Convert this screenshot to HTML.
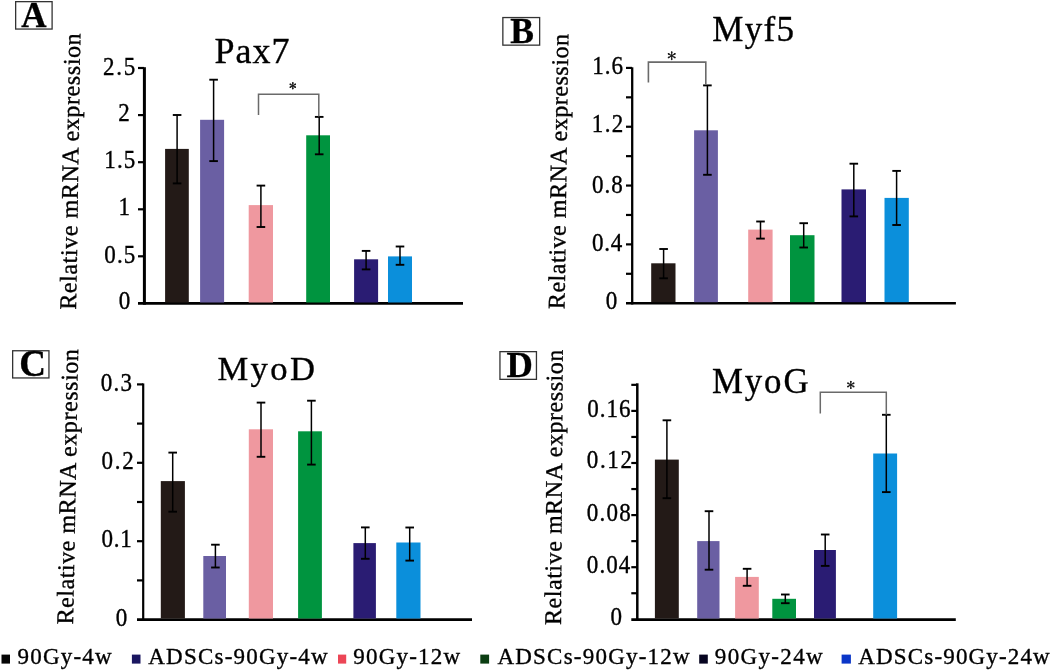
<!DOCTYPE html>
<html><head><meta charset="utf-8"><style>
html,body{margin:0;padding:0;background:#fff;}
body{width:1052px;height:671px;overflow:hidden;}
svg{display:block;will-change:transform;}
.s{font-family:"Liberation Serif",serif;stroke:#000;stroke-width:0.35px;}
</style></head><body>
<svg width="1052" height="671" viewBox="0 0 1052 671">
<rect width="1052" height="671" fill="#fff"/>
<rect x="15.65" y="1.65" width="36.45" height="27.40" fill="none" stroke="#333" stroke-width="1.3"/>
<text x="21.32" y="26.60" class="s" font-size="35" font-weight="bold" style="letter-spacing:0.000px" fill="#000" >A</text>
<text x="214.40" y="63.20" class="s" font-size="36" style="letter-spacing:1.000px" fill="#000" >Pax7</text>
<text x="0" y="0" transform="translate(76.09,309.75) rotate(-89.122)" class="s" font-size="24" style="letter-spacing:0.594px" fill="#000">Relative mRNA expression</text>
<line x1="144.40" y1="67.20" x2="144.40" y2="304.70" stroke="#000" stroke-width="3"/>
<line x1="138.00" y1="303.40" x2="463.00" y2="303.40" stroke="#000" stroke-width="2.7"/>
<line x1="138.00" y1="68.00" x2="144.00" y2="68.00" stroke="#000" stroke-width="2.2"/>
<line x1="138.00" y1="115.10" x2="144.00" y2="115.10" stroke="#000" stroke-width="2.2"/>
<line x1="138.00" y1="162.20" x2="144.00" y2="162.20" stroke="#000" stroke-width="2.2"/>
<line x1="138.00" y1="209.30" x2="144.00" y2="209.30" stroke="#000" stroke-width="2.2"/>
<line x1="138.00" y1="256.30" x2="144.00" y2="256.30" stroke="#000" stroke-width="2.2"/>
<text x="0" y="0" transform="translate(103.04,74.50) scale(0.96,1.05)" class="s" font-size="24" style="letter-spacing:1.833px" fill="#000" >2.5</text>
<text x="0" y="0" transform="translate(118.34,121.00) scale(0.96,1.05)" class="s" font-size="24" style="letter-spacing:0.000px" fill="#000" >2</text>
<text x="0" y="0" transform="translate(104.26,168.30) scale(0.96,1.05)" class="s" font-size="24" style="letter-spacing:1.198px" fill="#000" >1.5</text>
<text x="0" y="0" transform="translate(118.56,214.80) scale(0.96,1.05)" class="s" font-size="24" style="letter-spacing:0.000px" fill="#000" >1</text>
<text x="0" y="0" transform="translate(104.26,262.70) scale(0.96,1.05)" class="s" font-size="24" style="letter-spacing:1.198px" fill="#000" >0.5</text>
<text x="0" y="0" transform="translate(118.66,309.00) scale(0.96,1.05)" class="s" font-size="24" style="letter-spacing:0.000px" fill="#000" >0</text>
<rect x="165.10" y="148.90" width="23.70" height="153.60" fill="#231a17"/>
<rect x="200.10" y="119.80" width="24.00" height="182.70" fill="#6a5fa3"/>
<rect x="248.70" y="205.10" width="24.30" height="97.40" fill="#ef989f"/>
<rect x="306.20" y="135.30" width="23.80" height="167.20" fill="#00943f"/>
<rect x="354.10" y="259.30" width="24.00" height="43.20" fill="#2a1c73"/>
<rect x="388.00" y="256.40" width="24.00" height="46.10" fill="#0b8fdb"/>
<line x1="177.10" y1="115.00" x2="177.10" y2="183.40" stroke="#000" stroke-width="1.5"/>
<line x1="172.80" y1="115.00" x2="181.40" y2="115.00" stroke="#000" stroke-width="1.9"/>
<line x1="172.80" y1="183.40" x2="181.40" y2="183.40" stroke="#000" stroke-width="1.9"/>
<line x1="213.60" y1="79.70" x2="213.60" y2="161.10" stroke="#000" stroke-width="1.5"/>
<line x1="209.30" y1="79.70" x2="217.90" y2="79.70" stroke="#000" stroke-width="1.9"/>
<line x1="209.30" y1="161.10" x2="217.90" y2="161.10" stroke="#000" stroke-width="1.9"/>
<line x1="260.90" y1="185.60" x2="260.90" y2="227.00" stroke="#000" stroke-width="1.5"/>
<line x1="256.60" y1="185.60" x2="265.20" y2="185.60" stroke="#000" stroke-width="1.9"/>
<line x1="256.60" y1="227.00" x2="265.20" y2="227.00" stroke="#000" stroke-width="1.9"/>
<line x1="319.20" y1="116.90" x2="319.20" y2="154.30" stroke="#000" stroke-width="1.5"/>
<line x1="314.90" y1="116.90" x2="323.50" y2="116.90" stroke="#000" stroke-width="1.9"/>
<line x1="314.90" y1="154.30" x2="323.50" y2="154.30" stroke="#000" stroke-width="1.9"/>
<line x1="366.10" y1="250.90" x2="366.10" y2="269.40" stroke="#000" stroke-width="1.5"/>
<line x1="361.80" y1="250.90" x2="370.40" y2="250.90" stroke="#000" stroke-width="1.9"/>
<line x1="361.80" y1="269.40" x2="370.40" y2="269.40" stroke="#000" stroke-width="1.9"/>
<line x1="400.00" y1="246.50" x2="400.00" y2="264.80" stroke="#000" stroke-width="1.5"/>
<line x1="395.70" y1="246.50" x2="404.30" y2="246.50" stroke="#000" stroke-width="1.9"/>
<line x1="395.70" y1="264.80" x2="404.30" y2="264.80" stroke="#000" stroke-width="1.9"/>
<polyline points="258.5,115 258.5,94.2 318.8,94.2 318.8,116.5" fill="none" stroke="#6a6a6a" stroke-width="1.5"/>
<line x1="292.80" y1="82.60" x2="292.80" y2="88.80" stroke="#1a1a1a" stroke-width="1.15" stroke-linecap="round"/><circle cx="292.80" cy="88.37" r="0.85" fill="#1a1a1a"/><circle cx="292.80" cy="83.03" r="0.85" fill="#1a1a1a"/><line x1="290.12" y1="84.15" x2="295.48" y2="87.25" stroke="#1a1a1a" stroke-width="1.15" stroke-linecap="round"/><circle cx="295.11" cy="87.03" r="0.85" fill="#1a1a1a"/><circle cx="290.49" cy="84.37" r="0.85" fill="#1a1a1a"/><line x1="290.12" y1="87.25" x2="295.48" y2="84.15" stroke="#1a1a1a" stroke-width="1.15" stroke-linecap="round"/><circle cx="295.11" cy="84.37" r="0.85" fill="#1a1a1a"/><circle cx="290.49" cy="87.03" r="0.85" fill="#1a1a1a"/>
<rect x="502.85" y="17.55" width="36.80" height="27.60" fill="none" stroke="#333" stroke-width="1.3"/>
<text x="510.18" y="42.50" class="s" font-size="35.5" font-weight="bold" style="letter-spacing:0.000px" fill="#000" >B</text>
<text x="712.30" y="41.40" class="s" font-size="35" style="letter-spacing:1.342px" fill="#000" >Myf5</text>
<text x="0" y="0" transform="translate(564.49,309.15) rotate(-89.203)" class="s" font-size="24" style="letter-spacing:0.546px" fill="#000">Relative mRNA expression</text>
<line x1="632.20" y1="67.30" x2="632.20" y2="304.50" stroke="#000" stroke-width="2.3"/>
<line x1="626.00" y1="303.20" x2="955.90" y2="303.20" stroke="#000" stroke-width="2.6"/>
<line x1="626.00" y1="273.79" x2="632.00" y2="273.79" stroke="#000" stroke-width="2.2"/>
<line x1="626.00" y1="244.38" x2="632.00" y2="244.38" stroke="#000" stroke-width="2.2"/>
<line x1="626.00" y1="214.97" x2="632.00" y2="214.97" stroke="#000" stroke-width="2.2"/>
<line x1="626.00" y1="185.56" x2="632.00" y2="185.56" stroke="#000" stroke-width="2.2"/>
<line x1="626.00" y1="156.15" x2="632.00" y2="156.15" stroke="#000" stroke-width="2.2"/>
<line x1="626.00" y1="126.74" x2="632.00" y2="126.74" stroke="#000" stroke-width="2.2"/>
<line x1="626.00" y1="97.33" x2="632.00" y2="97.33" stroke="#000" stroke-width="2.2"/>
<line x1="626.00" y1="67.92" x2="632.00" y2="67.92" stroke="#000" stroke-width="2.2"/>
<text x="0" y="0" transform="translate(592.26,74.40) scale(0.96,1.05)" class="s" font-size="24" style="letter-spacing:1.021px" fill="#000" >1.6</text>
<text x="0" y="0" transform="translate(591.86,132.40) scale(0.96,1.05)" class="s" font-size="24" style="letter-spacing:1.333px" fill="#000" >1.2</text>
<text x="0" y="0" transform="translate(591.96,193.20) scale(0.96,1.05)" class="s" font-size="24" style="letter-spacing:1.031px" fill="#000" >0.8</text>
<text x="0" y="0" transform="translate(591.96,251.30) scale(0.96,1.05)" class="s" font-size="24" style="letter-spacing:0.781px" fill="#000" >0.4</text>
<text x="0" y="0" transform="translate(605.86,309.20) scale(0.96,1.05)" class="s" font-size="24" style="letter-spacing:0.000px" fill="#000" >0</text>
<rect x="651.20" y="263.30" width="24.30" height="38.90" fill="#231a17"/>
<rect x="694.10" y="130.30" width="23.80" height="171.90" fill="#6a5fa3"/>
<rect x="748.20" y="229.60" width="24.40" height="72.60" fill="#ef989f"/>
<rect x="790.00" y="235.20" width="24.50" height="67.00" fill="#00943f"/>
<rect x="841.50" y="189.40" width="24.50" height="112.80" fill="#2a1c73"/>
<rect x="884.50" y="197.90" width="24.30" height="104.30" fill="#0b8fdb"/>
<line x1="663.60" y1="249.00" x2="663.60" y2="278.30" stroke="#000" stroke-width="1.5"/>
<line x1="659.30" y1="249.00" x2="667.90" y2="249.00" stroke="#000" stroke-width="1.9"/>
<line x1="659.30" y1="278.30" x2="667.90" y2="278.30" stroke="#000" stroke-width="1.9"/>
<line x1="707.40" y1="85.40" x2="707.40" y2="174.80" stroke="#000" stroke-width="1.5"/>
<line x1="703.10" y1="85.40" x2="711.70" y2="85.40" stroke="#000" stroke-width="1.9"/>
<line x1="703.10" y1="174.80" x2="711.70" y2="174.80" stroke="#000" stroke-width="1.9"/>
<line x1="760.50" y1="221.50" x2="760.50" y2="238.60" stroke="#000" stroke-width="1.5"/>
<line x1="756.20" y1="221.50" x2="764.80" y2="221.50" stroke="#000" stroke-width="1.9"/>
<line x1="756.20" y1="238.60" x2="764.80" y2="238.60" stroke="#000" stroke-width="1.9"/>
<line x1="803.70" y1="223.20" x2="803.70" y2="247.50" stroke="#000" stroke-width="1.5"/>
<line x1="799.40" y1="223.20" x2="808.00" y2="223.20" stroke="#000" stroke-width="1.9"/>
<line x1="799.40" y1="247.50" x2="808.00" y2="247.50" stroke="#000" stroke-width="1.9"/>
<line x1="853.80" y1="163.70" x2="853.80" y2="216.40" stroke="#000" stroke-width="1.5"/>
<line x1="849.50" y1="163.70" x2="858.10" y2="163.70" stroke="#000" stroke-width="1.9"/>
<line x1="849.50" y1="216.40" x2="858.10" y2="216.40" stroke="#000" stroke-width="1.9"/>
<line x1="896.60" y1="170.90" x2="896.60" y2="225.00" stroke="#000" stroke-width="1.5"/>
<line x1="892.30" y1="170.90" x2="900.90" y2="170.90" stroke="#000" stroke-width="1.9"/>
<line x1="892.30" y1="225.00" x2="900.90" y2="225.00" stroke="#000" stroke-width="1.9"/>
<polyline points="648.4,82.6 648.4,62.1 705.8,62.1 705.8,84.8" fill="none" stroke="#6a6a6a" stroke-width="1.6"/>
<line x1="671.70" y1="51.70" x2="671.70" y2="59.60" stroke="#1a1a1a" stroke-width="1.15" stroke-linecap="round"/><circle cx="671.70" cy="59.05" r="0.85" fill="#1a1a1a"/><circle cx="671.70" cy="52.25" r="0.85" fill="#1a1a1a"/><line x1="668.28" y1="53.68" x2="675.12" y2="57.63" stroke="#1a1a1a" stroke-width="1.15" stroke-linecap="round"/><circle cx="674.64" cy="57.35" r="0.85" fill="#1a1a1a"/><circle cx="668.76" cy="53.95" r="0.85" fill="#1a1a1a"/><line x1="668.28" y1="57.63" x2="675.12" y2="53.68" stroke="#1a1a1a" stroke-width="1.15" stroke-linecap="round"/><circle cx="674.64" cy="53.95" r="0.85" fill="#1a1a1a"/><circle cx="668.76" cy="57.35" r="0.85" fill="#1a1a1a"/>
<rect x="12.65" y="350.75" width="36.30" height="27.20" fill="none" stroke="#333" stroke-width="1.3"/>
<text x="19.35" y="376.40" class="s" font-size="37" font-weight="bold" style="letter-spacing:0.000px" fill="#000" >C</text>
<text x="217.47" y="380.20" class="s" font-size="34.6" style="letter-spacing:2.400px" fill="#000" >MyoD</text>
<text x="0" y="0" transform="translate(73.09,624.55) rotate(-88.951)" class="s" font-size="24" style="letter-spacing:0.551px" fill="#000">Relative mRNA expression</text>
<line x1="143.20" y1="383.40" x2="143.20" y2="620.50" stroke="#000" stroke-width="2.2"/>
<line x1="137.00" y1="619.60" x2="472.00" y2="619.60" stroke="#000" stroke-width="2.7"/>
<line x1="137.00" y1="580.40" x2="143.00" y2="580.40" stroke="#000" stroke-width="2.2"/>
<line x1="137.00" y1="541.20" x2="143.00" y2="541.20" stroke="#000" stroke-width="2.2"/>
<line x1="137.00" y1="502.00" x2="143.00" y2="502.00" stroke="#000" stroke-width="2.2"/>
<line x1="137.00" y1="462.80" x2="143.00" y2="462.80" stroke="#000" stroke-width="2.2"/>
<line x1="137.00" y1="423.60" x2="143.00" y2="423.60" stroke="#000" stroke-width="2.2"/>
<line x1="137.00" y1="384.40" x2="143.00" y2="384.40" stroke="#000" stroke-width="2.2"/>
<text x="0" y="0" transform="translate(100.76,390.60) scale(0.96,1.05)" class="s" font-size="24" style="letter-spacing:1.302px" fill="#000" >0.3</text>
<text x="0" y="0" transform="translate(101.46,469.00) scale(0.96,1.05)" class="s" font-size="24" style="letter-spacing:1.854px" fill="#000" >0.2</text>
<text x="0" y="0" transform="translate(101.46,547.10) scale(0.96,1.05)" class="s" font-size="24" style="letter-spacing:0.823px" fill="#000" >0.1</text>
<text x="0" y="0" transform="translate(115.76,625.90) scale(0.96,1.05)" class="s" font-size="24" style="letter-spacing:0.000px" fill="#000" >0</text>
<rect x="160.80" y="481.10" width="24.10" height="137.40" fill="#231a17"/>
<rect x="203.30" y="556.00" width="22.70" height="62.50" fill="#6a5fa3"/>
<rect x="248.80" y="429.30" width="24.20" height="189.20" fill="#ef989f"/>
<rect x="298.10" y="431.30" width="23.80" height="187.20" fill="#00943f"/>
<rect x="353.40" y="543.10" width="22.50" height="75.40" fill="#2a1c73"/>
<rect x="396.30" y="542.50" width="24.20" height="76.00" fill="#0b8fdb"/>
<line x1="172.70" y1="452.60" x2="172.70" y2="511.70" stroke="#000" stroke-width="1.5"/>
<line x1="168.40" y1="452.60" x2="177.00" y2="452.60" stroke="#000" stroke-width="1.9"/>
<line x1="168.40" y1="511.70" x2="177.00" y2="511.70" stroke="#000" stroke-width="1.9"/>
<line x1="215.40" y1="544.70" x2="215.40" y2="567.50" stroke="#000" stroke-width="1.5"/>
<line x1="211.10" y1="544.70" x2="219.70" y2="544.70" stroke="#000" stroke-width="1.9"/>
<line x1="211.10" y1="567.50" x2="219.70" y2="567.50" stroke="#000" stroke-width="1.9"/>
<line x1="261.00" y1="402.60" x2="261.00" y2="456.80" stroke="#000" stroke-width="1.5"/>
<line x1="256.70" y1="402.60" x2="265.30" y2="402.60" stroke="#000" stroke-width="1.9"/>
<line x1="256.70" y1="456.80" x2="265.30" y2="456.80" stroke="#000" stroke-width="1.9"/>
<line x1="311.40" y1="400.70" x2="311.40" y2="464.60" stroke="#000" stroke-width="1.5"/>
<line x1="307.10" y1="400.70" x2="315.70" y2="400.70" stroke="#000" stroke-width="1.9"/>
<line x1="307.10" y1="464.60" x2="315.70" y2="464.60" stroke="#000" stroke-width="1.9"/>
<line x1="365.30" y1="527.40" x2="365.30" y2="558.80" stroke="#000" stroke-width="1.5"/>
<line x1="361.00" y1="527.40" x2="369.60" y2="527.40" stroke="#000" stroke-width="1.9"/>
<line x1="361.00" y1="558.80" x2="369.60" y2="558.80" stroke="#000" stroke-width="1.9"/>
<line x1="409.70" y1="527.50" x2="409.70" y2="560.60" stroke="#000" stroke-width="1.5"/>
<line x1="405.40" y1="527.50" x2="414.00" y2="527.50" stroke="#000" stroke-width="1.9"/>
<line x1="405.40" y1="560.60" x2="414.00" y2="560.60" stroke="#000" stroke-width="1.9"/>
<rect x="499.95" y="351.65" width="36.50" height="27.70" fill="none" stroke="#333" stroke-width="1.3"/>
<text x="506.57" y="376.90" class="s" font-size="36.5" font-weight="bold" style="letter-spacing:0.000px" fill="#000" >D</text>
<text x="711.95" y="392.60" class="s" font-size="34.8" style="letter-spacing:1.917px" fill="#000" >MyoG</text>
<text x="0" y="0" transform="translate(560.89,625.05) rotate(-89.602)" class="s" font-size="24" style="letter-spacing:0.554px" fill="#000">Relative mRNA expression</text>
<line x1="637.30" y1="383.30" x2="637.30" y2="620.50" stroke="#000" stroke-width="2.5"/>
<line x1="631.30" y1="619.60" x2="955.80" y2="619.60" stroke="#000" stroke-width="2.7"/>
<line x1="631.30" y1="593.25" x2="637.00" y2="593.25" stroke="#000" stroke-width="2.2"/>
<line x1="631.30" y1="567.20" x2="637.00" y2="567.20" stroke="#000" stroke-width="2.2"/>
<line x1="631.30" y1="541.15" x2="637.00" y2="541.15" stroke="#000" stroke-width="2.2"/>
<line x1="631.30" y1="515.10" x2="637.00" y2="515.10" stroke="#000" stroke-width="2.2"/>
<line x1="631.30" y1="489.05" x2="637.00" y2="489.05" stroke="#000" stroke-width="2.2"/>
<line x1="631.30" y1="463.00" x2="637.00" y2="463.00" stroke="#000" stroke-width="2.2"/>
<line x1="631.30" y1="436.95" x2="637.00" y2="436.95" stroke="#000" stroke-width="2.2"/>
<line x1="631.30" y1="410.90" x2="637.00" y2="410.90" stroke="#000" stroke-width="2.2"/>
<line x1="631.30" y1="384.85" x2="637.00" y2="384.85" stroke="#000" stroke-width="2.2"/>
<text x="0" y="0" transform="translate(587.26,416.60) scale(0.96,1.05)" class="s" font-size="24" style="letter-spacing:1.056px" fill="#000" >0.16</text>
<text x="0" y="0" transform="translate(586.86,468.40) scale(0.96,1.05)" class="s" font-size="24" style="letter-spacing:1.681px" fill="#000" >0.12</text>
<text x="0" y="0" transform="translate(586.86,521.20) scale(0.96,1.05)" class="s" font-size="24" style="letter-spacing:1.236px" fill="#000" >0.08</text>
<text x="0" y="0" transform="translate(586.86,572.90) scale(0.96,1.05)" class="s" font-size="24" style="letter-spacing:1.069px" fill="#000" >0.04</text>
<text x="0" y="0" transform="translate(610.46,625.20) scale(0.96,1.05)" class="s" font-size="24" style="letter-spacing:0.000px" fill="#000" >0</text>
<rect x="654.90" y="459.60" width="23.90" height="158.90" fill="#231a17"/>
<rect x="697.20" y="541.10" width="22.30" height="77.40" fill="#6a5fa3"/>
<rect x="735.10" y="576.90" width="23.70" height="41.60" fill="#ef989f"/>
<rect x="772.30" y="598.80" width="23.70" height="19.70" fill="#00943f"/>
<rect x="814.00" y="550.00" width="21.90" height="68.50" fill="#2a1c73"/>
<rect x="873.20" y="453.50" width="23.90" height="165.00" fill="#0b8fdb"/>
<line x1="666.90" y1="420.30" x2="666.90" y2="498.20" stroke="#000" stroke-width="1.5"/>
<line x1="662.60" y1="420.30" x2="671.20" y2="420.30" stroke="#000" stroke-width="1.9"/>
<line x1="662.60" y1="498.20" x2="671.20" y2="498.20" stroke="#000" stroke-width="1.9"/>
<line x1="709.00" y1="511.20" x2="709.00" y2="569.70" stroke="#000" stroke-width="1.5"/>
<line x1="704.70" y1="511.20" x2="713.30" y2="511.20" stroke="#000" stroke-width="1.9"/>
<line x1="704.70" y1="569.70" x2="713.30" y2="569.70" stroke="#000" stroke-width="1.9"/>
<line x1="747.10" y1="568.80" x2="747.10" y2="585.80" stroke="#000" stroke-width="1.5"/>
<line x1="742.80" y1="568.80" x2="751.40" y2="568.80" stroke="#000" stroke-width="1.9"/>
<line x1="742.80" y1="585.80" x2="751.40" y2="585.80" stroke="#000" stroke-width="1.9"/>
<line x1="785.30" y1="594.50" x2="785.30" y2="603.20" stroke="#000" stroke-width="1.5"/>
<line x1="781.00" y1="594.50" x2="789.60" y2="594.50" stroke="#000" stroke-width="1.9"/>
<line x1="781.00" y1="603.20" x2="789.60" y2="603.20" stroke="#000" stroke-width="1.9"/>
<line x1="825.20" y1="534.50" x2="825.20" y2="565.90" stroke="#000" stroke-width="1.5"/>
<line x1="820.90" y1="534.50" x2="829.50" y2="534.50" stroke="#000" stroke-width="1.9"/>
<line x1="820.90" y1="565.90" x2="829.50" y2="565.90" stroke="#000" stroke-width="1.9"/>
<line x1="886.30" y1="414.80" x2="886.30" y2="492.10" stroke="#000" stroke-width="1.5"/>
<line x1="882.00" y1="414.80" x2="890.60" y2="414.80" stroke="#000" stroke-width="1.9"/>
<line x1="882.00" y1="492.10" x2="890.60" y2="492.10" stroke="#000" stroke-width="1.9"/>
<polyline points="820.3,413.6 820.3,392.2 886.3,392.2 886.3,414.8" fill="none" stroke="#6a6a6a" stroke-width="1.5"/>
<line x1="850.80" y1="381.30" x2="850.80" y2="388.50" stroke="#1a1a1a" stroke-width="1.15" stroke-linecap="round"/><circle cx="850.80" cy="388.00" r="0.85" fill="#1a1a1a"/><circle cx="850.80" cy="381.80" r="0.85" fill="#1a1a1a"/><line x1="847.68" y1="383.10" x2="853.92" y2="386.70" stroke="#1a1a1a" stroke-width="1.15" stroke-linecap="round"/><circle cx="853.48" cy="386.45" r="0.85" fill="#1a1a1a"/><circle cx="848.12" cy="383.35" r="0.85" fill="#1a1a1a"/><line x1="847.68" y1="386.70" x2="853.92" y2="383.10" stroke="#1a1a1a" stroke-width="1.15" stroke-linecap="round"/><circle cx="853.48" cy="383.35" r="0.85" fill="#1a1a1a"/><circle cx="848.12" cy="386.45" r="0.85" fill="#1a1a1a"/>
<rect x="1.50" y="654.60" width="8.50" height="9.00" fill="#050505"/>
<text x="17.55" y="664.30" class="s" font-size="23" style="letter-spacing:1.200px" fill="#000" >90Gy-4w</text>
<rect x="131.90" y="654.60" width="8.60" height="9.00" fill="#1a1660"/>
<text x="148.25" y="664.30" class="s" font-size="23" style="letter-spacing:1.217px" fill="#000" >ADSCs-90Gy-4w</text>
<rect x="338.00" y="654.60" width="8.20" height="9.00" fill="#ec4656"/>
<text x="353.25" y="664.30" class="s" font-size="23" style="letter-spacing:1.214px" fill="#000" >90Gy-12w</text>
<rect x="480.30" y="654.60" width="8.80" height="9.00" fill="#0b3d12"/>
<text x="497.45" y="664.30" class="s" font-size="23" style="letter-spacing:1.223px" fill="#000" >ADSCs-90Gy-12w</text>
<rect x="699.20" y="654.60" width="8.60" height="9.00" fill="#060420"/>
<text x="714.85" y="664.30" class="s" font-size="23" style="letter-spacing:1.343px" fill="#000" >90Gy-24w</text>
<rect x="841.60" y="654.60" width="9.30" height="9.00" fill="#0b36c8"/>
<text x="858.35" y="664.30" class="s" font-size="23" style="letter-spacing:1.154px" fill="#000" >ADSCs-90Gy-24w</text>
</svg>
</body></html>
